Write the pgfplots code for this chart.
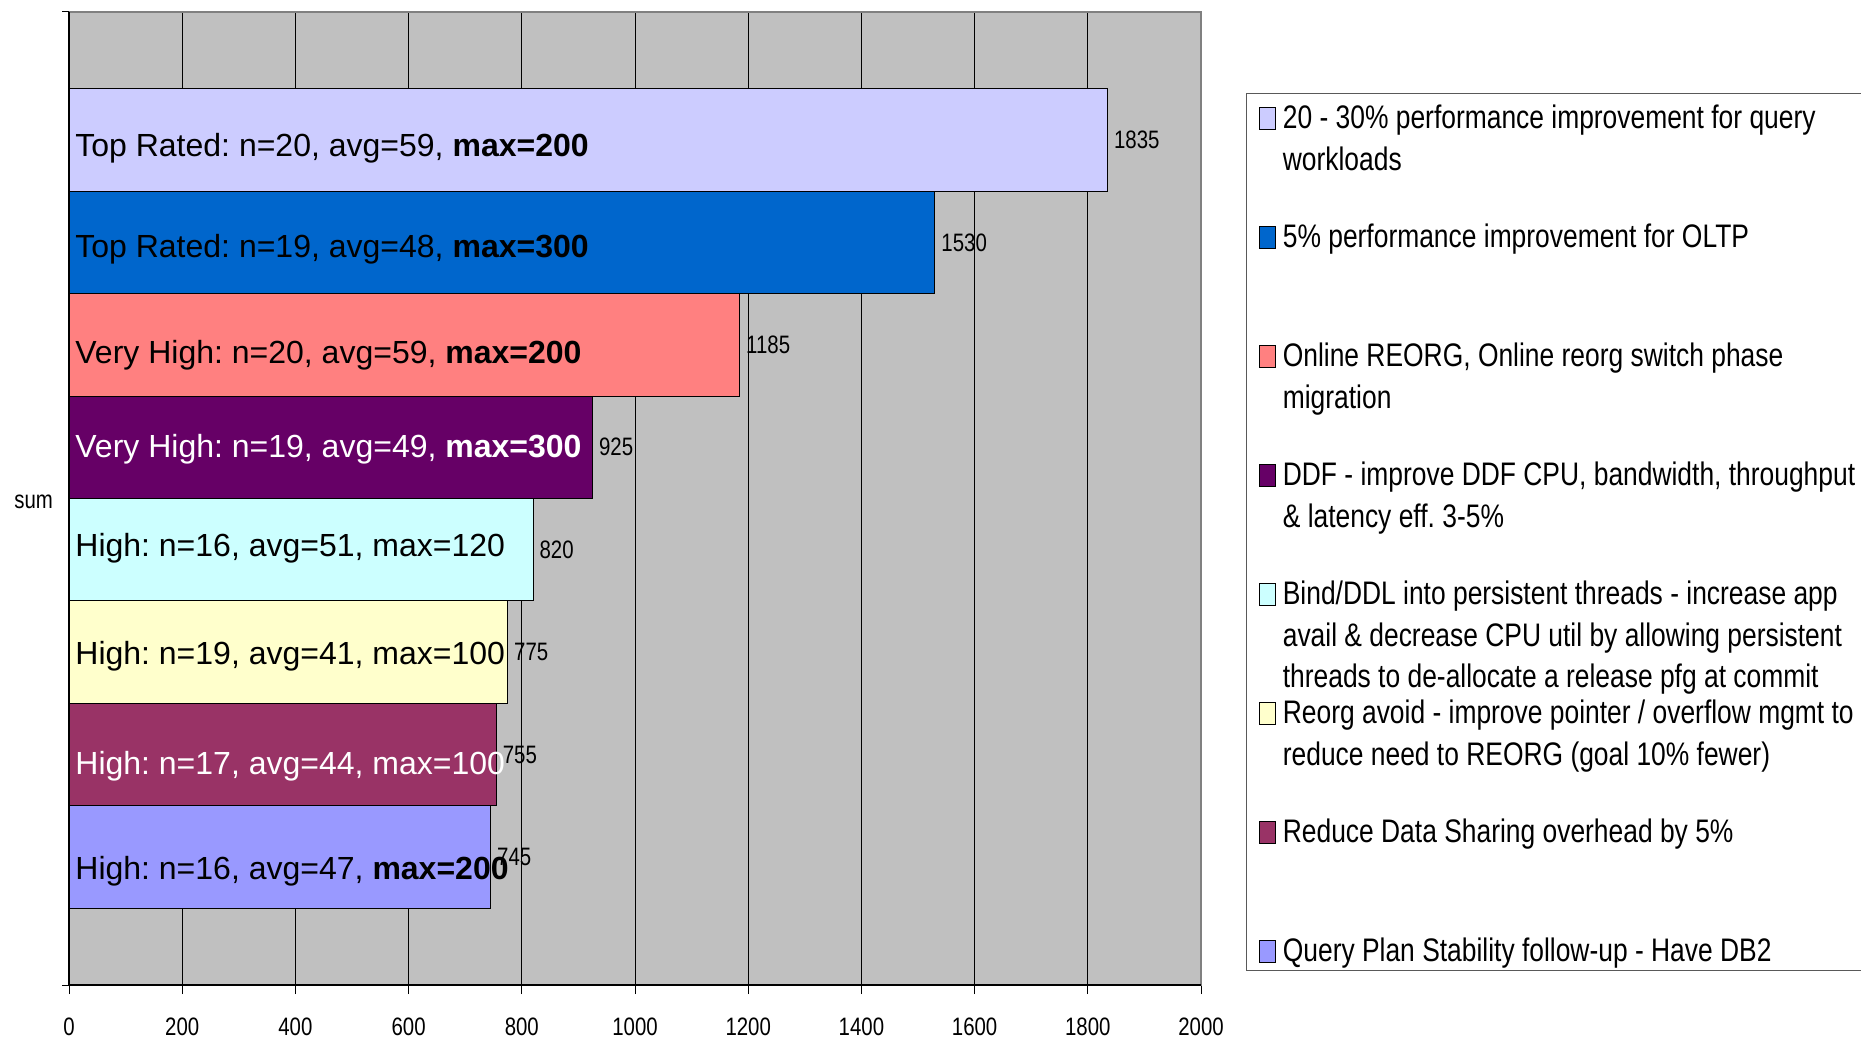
\documentclass[border=0pt]{standalone}
\usepackage{pgfplots}
\pgfplotsset{compat=1.18}
\usepackage{fontspec}
\setmainfont{Liberation Sans}
\newfontfamily\narrow{Liberation Sans}[FakeStretch=0.81]
\frenchspacing
\definecolor{bgGray}{HTML}{C0C0C0}
\definecolor{cA}{HTML}{CCCCFF}
\definecolor{cB}{HTML}{0066CC}
\definecolor{cC}{HTML}{FF8080}
\definecolor{cD}{HTML}{660066}
\definecolor{cE}{HTML}{CCFFFF}
\definecolor{cF}{HTML}{FFFFCC}
\definecolor{cG}{HTML}{993366}
\definecolor{cH}{HTML}{9999FF}
\newcommand{\legtext}[2][59.5pt]{\parbox[t][#1][t]{300pt}{\narrow\fontsize{16.3}{20.85}\selectfont\frenchspacing\raggedright\rule{0pt}{15pt}#2}}
\newcommand{\barlab}{\fontsize{16}{19}\selectfont\frenchspacing}
\begin{document}
\begin{tikzpicture}
\begin{axis}[
  scale only axis, width=566pt, height=486.5pt,
  xbar, bar width=1, bar shift=0pt,
  xmin=0, xmax=2000, ymin=0.25, ymax=9.75,
  xtick distance=200,
  ytick={5}, yticklabels={sum},
  ytick style={draw=none},
  xmajorgrids, grid style={black, line width=0.5pt},
  axis background/.style={fill=bgGray},
  axis line style={draw=gray, line width=0.6pt},
  tick pos=left, tick align=outside,
  xtick style={black, line width=0.5pt}, major tick length=4.5pt,
  /pgf/number format/1000 sep={},
  /pgf/number format/assume math mode=true,
  ticklabel style={font=\narrow\fontsize{12.6}{14}\selectfont},
  xticklabel style={yshift=-8.2pt},
  yticklabel style={yshift=-1.5pt},
  nodes near coords,
  nodes near coords style={font=\narrow\fontsize{12.6}{14}\selectfont, anchor=west, inner sep=0pt, xshift=3pt, text=black},
  every axis plot/.append style={draw=black, line width=0.5pt},
  every axis plot post/.append style={legend image code/.code={\draw[##1, draw=black, line width=0.5pt] (0pt,-0.5pt) rectangle (8pt,10.5pt);}},
  legend style={at={(1.0398,0.9168)}, anchor=north west, draw=black!65, fill=white, line width=0.6pt,
    inner xsep=6pt, inner ysep=2.5pt, row sep=0pt, column sep=3.6pt,
    nodes={inner sep=0pt, text depth=}, cells={anchor=base west}},
  after end axis/.code={
    \draw[black, line width=0.6pt] (rel axis cs:0,1) -- (rel axis cs:0,0) -- (rel axis cs:1,0);
    \draw[black, line width=0.5pt] (rel axis cs:0,0) -- ++(-3.5pt,0);
    \draw[black, line width=0.5pt] (rel axis cs:0,1) -- ++(-3.5pt,0);
  },
]
\addplot[fill=cA] coordinates {(1835,8.5)};
\addlegendentry{\legtext{20 - 30\% performance improvement for query\\workloads}}
\addplot[fill=cB] coordinates {(1530,7.5)};
\addlegendentry{\legtext{5\% performance improvement for OLTP}}
\addplot[fill=cC] coordinates {(1185,6.5)};
\addlegendentry{\legtext{Online REORG, Online reorg switch phase\\migration}}
\addplot[fill=cD] coordinates {(925,5.5)};
\addlegendentry{\legtext{DDF - improve DDF CPU, bandwidth, throughput\\\& latency eff. 3-5\%}}
\addplot[fill=cE] coordinates {(820,4.5)};
\addlegendentry{\legtext{Bind/DDL into persistent threads - increase app\\avail \& decrease CPU util by allowing persistent\\threads to de-allocate a release pfg at commit}}
\addplot[fill=cF] coordinates {(775,3.5)};
\addlegendentry{\legtext{Reorg avoid - improve pointer / overflow mgmt to\\reduce need to REORG (goal 10\% fewer)}}
\addplot[fill=cG] coordinates {(755,2.5)};
\addlegendentry{\legtext{Reduce Data Sharing overhead by 5\%}}
\addplot[fill=cH] coordinates {(745,1.5)};
\addlegendentry{\legtext[17pt]{Query Plan Stability follow-up - Have DB2}}

\node[anchor=base west, inner sep=0pt, font=\barlab] at ([xshift=3pt, yshift=-8.4pt]axis cs:0,8.5) {Top Rated: n=20, avg=59, \textbf{max=200}};
\node[anchor=base west, inner sep=0pt, font=\barlab] at ([xshift=3pt, yshift=-7.4pt]axis cs:0,7.5) {Top Rated: n=19, avg=48, \textbf{max=300}};
\node[anchor=base west, inner sep=0pt, font=\barlab] at ([xshift=3pt, yshift=-9.25pt]axis cs:0,6.5) {Very High: n=20, avg=59, \textbf{max=200}};
\node[anchor=base west, inner sep=0pt, font=\barlab, text=white] at ([xshift=3pt, yshift=-5.25pt]axis cs:0,5.5) {Very High: n=19, avg=49, \textbf{max=300}};
\node[anchor=base west, inner sep=0pt, font=\barlab] at ([xshift=3pt, yshift=-3.25pt]axis cs:0,4.5) {High: n=16, avg=51, max=120};
\node[anchor=base west, inner sep=0pt, font=\barlab] at ([xshift=3pt, yshift=-6.25pt]axis cs:0,3.5) {High: n=19, avg=41, max=100};
\node[anchor=base west, inner sep=0pt, font=\barlab, text=white] at ([xshift=3pt, yshift=-9.75pt]axis cs:0,2.5) {High: n=17, avg=44, max=100};
\node[anchor=base west, inner sep=0pt, font=\barlab] at ([xshift=3pt, yshift=-11.25pt]axis cs:0,1.5) {High: n=16, avg=47, \textbf{max=200}};
\end{axis}
\pgfresetboundingbox
\useasboundingbox (-34.5pt,-26.5pt) rectangle (896pt,492.5pt);
\end{tikzpicture}
\end{document}
